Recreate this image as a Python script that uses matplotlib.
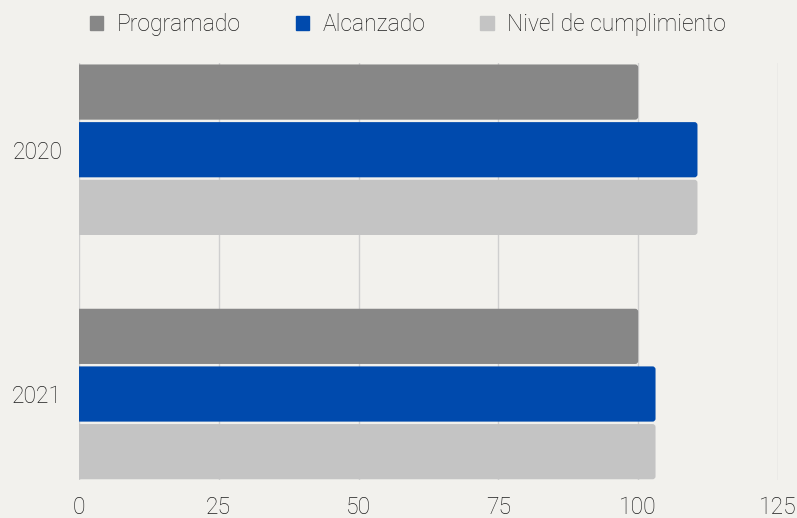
import numpy as np
import matplotlib
matplotlib.use('Agg')
import matplotlib.pyplot as plt
import matplotlib.patches as mpatches
from matplotlib.patches import FancyBboxPatch

# data
years = ['2020', '2021']
series_names = ['Programado', 'Alcanzado', 'Nivel de cumplimiento']
programado = [100, 100]
alcanzado = [110.6, 103.1]
cumplimiento = [110.6, 103.1]
x_ticks = [0, 25, 50, 75, 100, 125]

COLORS = ['#878787', '#004aad', '#c4c4c4']
BG = '#f2f1ed'
GRID = '#cfcfcf'
TEXT = '#1e1e1e'

plt.rcParams['font.family'] = ['Roboto', 'DejaVu Sans']
plt.rcParams['font.weight'] = 'light'

fig = plt.figure(figsize=(7.97, 5.18), dpi=100, facecolor=BG)
ax = fig.add_axes([79 / 797, 38 / 518, 699 / 797, 417 / 518])
ax.set_facecolor(BG)

slot = 0.236
bar_h = 0.226
values = [programado, alcanzado, cumplimiento]

# rounding: ~3px on the right end, squared off on the left by starting left of 0
px_x = 125 / 699
px_y = (1.352 + 0.355) / 417
for s, vals in enumerate(values):
    for i, v in enumerate(vals):
        yc = i + (s - 1) * slot
        box = FancyBboxPatch((-5, yc - bar_h / 2), v + 5, bar_h,
                             boxstyle=f'round,pad=0,rounding_size={3 * px_x}',
                             mutation_aspect=px_y / px_x,
                             facecolor=COLORS[s], edgecolor='none',
                             zorder=3, clip_on=True)
        ax.add_patch(box)

ax.set_xlim(0, 125)
ax.set_ylim(1.352, -0.355)
ax.set_yticks(range(len(years)))
ax.set_yticklabels(years)
ax.set_xticks(x_ticks)
ax.set_xticklabels([str(t) for t in x_ticks])
ax.tick_params(length=0, labelsize=16.5, labelcolor=TEXT)
ax.tick_params(axis='x', pad=11.5)
ax.tick_params(axis='y', pad=12)
for sp in ax.spines.values():
    sp.set_visible(False)
ax.grid(axis='x', color=GRID, linewidth=1, zorder=0)
ax.grid(axis='y', visible=False)

handles = [mpatches.Patch(color=c, label=n) for c, n in zip(COLORS, series_names)]
fig.legend(handles=handles, loc='center', bbox_to_anchor=(0.512, 0.952),
           ncol=3, frameon=False, fontsize=16.5, handlelength=0.57,
           handleheight=0.57, handletextpad=0.6, columnspacing=2.4,
           labelcolor=TEXT)

plt.savefig('out.png', dpi=100, facecolor=BG)
